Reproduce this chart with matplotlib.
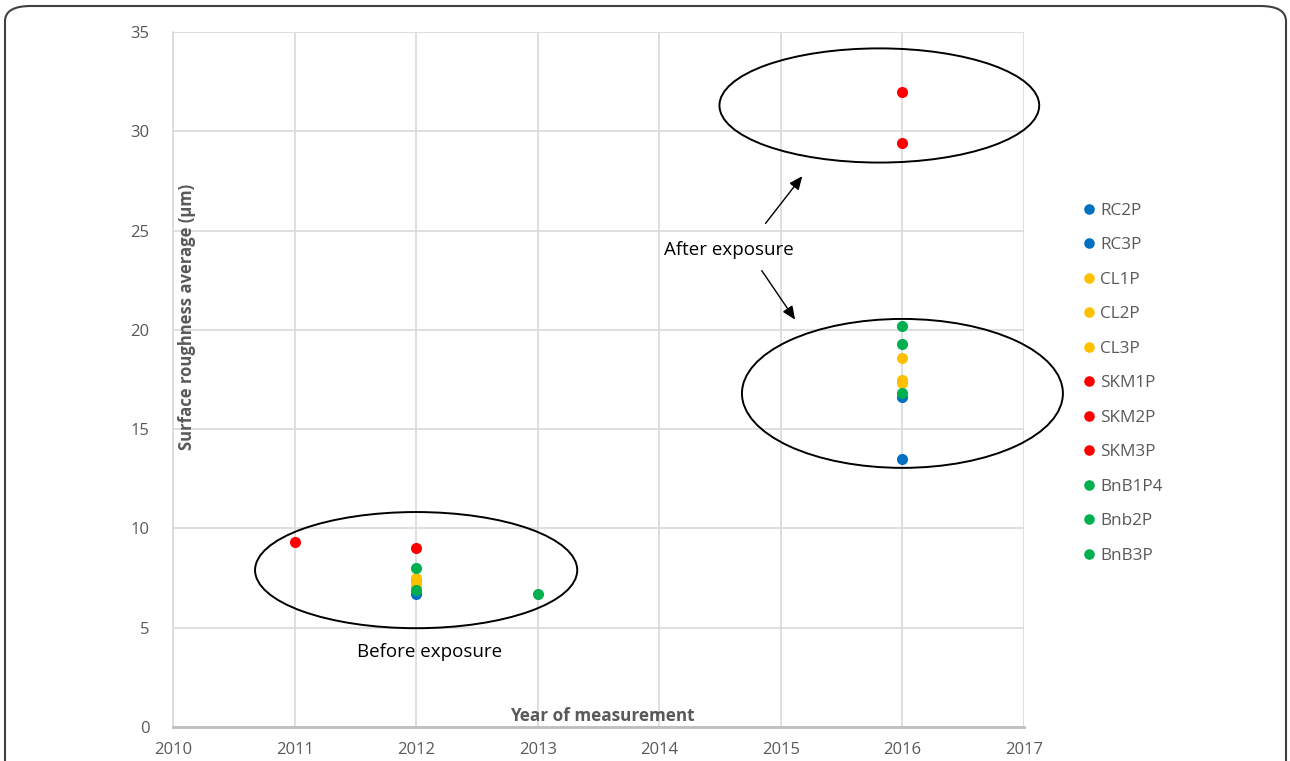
import matplotlib
matplotlib.use("Agg")
import matplotlib.pyplot as plt
from matplotlib.patches import Ellipse, FancyBboxPatch

plt.rcParams['font.family'] = ['Open Sans', 'DejaVu Sans']

series_names = ["RC2P", "RC3P", "CL1P", "CL2P", "CL3P", "SKM1P", "SKM2P", "SKM3P",
                "BnB1P4", "Bnb2P", "BnB3P"]
series_colors = ["#0070C0", "#0070C0", "#FFC000", "#FFC000", "#FFC000",
                 "#FF0000", "#FF0000", "#FF0000", "#00B050", "#00B050", "#00B050"]
series_years = [[2012, 2016], [2012, 2016], [2012, 2016], [2012, 2016], [2012, 2016],
                [2011, 2016], [2012, 2016], [],
                [2012, 2016], [2012, 2016], [2013, 2016]]
series_values = [[6.7, 16.6], [7.4, 13.5], [7.5, 18.6], [7.3, 17.5], [7.1, 17.3],
                 [9.3, 32.0], [9.0, 29.4], [],
                 [8.0, 20.2], [6.9, 19.3], [6.7, 16.8]]

x_ticks = [2010, 2011, 2012, 2013, 2014, 2015, 2016, 2017]
y_ticks = [0, 5, 10, 15, 20, 25, 30, 35]

grey = "#595959"
fig = plt.figure(figsize=(12.9, 7.61), dpi=100)
ax = fig.add_axes([173/1290, 1-727/761, 851/1290, 695/761])

for name, col, xs, ys in zip(series_names, series_colors, series_years, series_values):
    ax.plot(xs, ys, linestyle="none", marker="o", markersize=8, color=col,
            markeredgewidth=0, label=name, zorder=3, clip_on=False)

ax.set_xlim(2010, 2017)
ax.set_ylim(0, 35)
ax.set_xticks(x_ticks)
ax.set_yticks(y_ticks)
ax.set_xticklabels([str(t) for t in x_ticks])
ax.grid(True, color="#d9d9d9", linewidth=1.2, zorder=0)
ax.set_axisbelow(True)
for s in ["top", "right"]:
    ax.spines[s].set_visible(False)
ax.spines["left"].set_color("#d9d9d9")
ax.spines["left"].set_linewidth(1.2)
ax.spines["bottom"].set_color("#bfbfbf")
ax.spines["bottom"].set_linewidth(2)
ax.tick_params(axis="both", length=0, colors=grey, labelsize=12)
ax.tick_params(axis="x", pad=11)
ax.tick_params(axis="y", pad=17)

ax.text(0.504, 0.016, "Year of measurement", transform=ax.transAxes, ha="center",
        va="center", fontsize=12.3, fontweight="bold", color=grey)
ax.text(0.0165, 0.59, "Surface roughness average (µm)", transform=ax.transAxes,
        ha="center", va="center", rotation=90, fontsize=12, fontweight="bold", color=grey)

# ellipses
for (cx, cy, w, h) in [(2012.0, 7.9, 2.65, 5.85), (2015.81, 31.3, 2.63, 5.75),
                       (2016.0, 16.8, 2.64, 7.5)]:
    ax.add_patch(Ellipse((cx, cy), w, h, fill=False, edgecolor="black", linewidth=1.4,
                         clip_on=False, zorder=4))

ax.annotate("", xy=(2015.19, 27.85), xytext=(2014.86, 25.25),
            arrowprops=dict(arrowstyle="-|>,head_length=0.8,head_width=0.35", color="black", lw=1))
ax.annotate("", xy=(2015.13, 20.4), xytext=(2014.83, 23.1),
            arrowprops=dict(arrowstyle="-|>,head_length=0.8,head_width=0.35", color="black", lw=1))
ax.text(2014.57, 24.0, "After exposure", ha="center", va="center", fontsize=13.5, color="black")
ax.text(2012.11, 3.8, "Before exposure", ha="center", va="center", fontsize=13.5, color="black")

leg = ax.legend(loc="upper left", bbox_to_anchor=(1072/1290, 1-194/761),
                bbox_transform=fig.transFigure, frameon=False, fontsize=12.3,
                labelspacing=1.085, handletextpad=0.15, handlelength=1.0, markerscale=0.95,
                borderpad=0)
for t in leg.get_texts():
    t.set_color(grey)

fig.patches.append(FancyBboxPatch((5/1290, -0.2), 1281/1290, 1.2 - 6/761,
                                  boxstyle="round,pad=0,rounding_size=0.02",
                                  transform=fig.transFigure, fill=False,
                                  edgecolor="#404040", linewidth=1.5))

fig.savefig("out.png", dpi=100)
